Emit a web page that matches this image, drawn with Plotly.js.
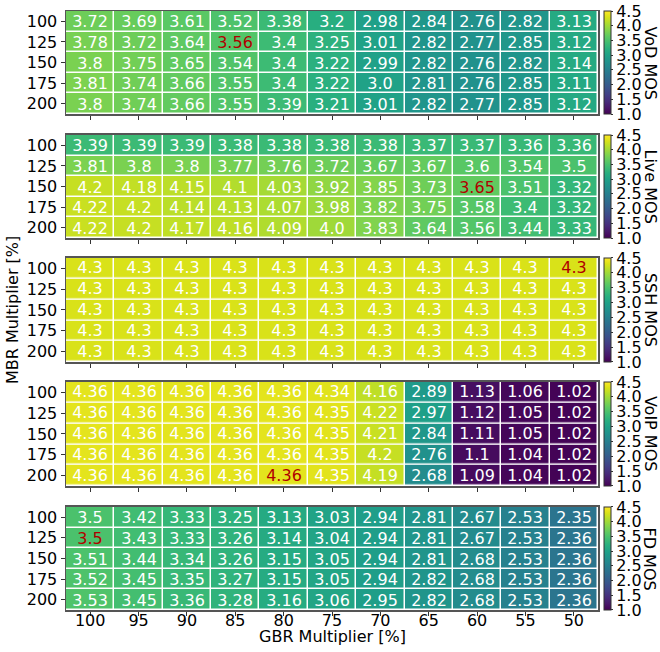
<!DOCTYPE html>
<html>
<head>
<meta charset="utf-8">
<script src="https://cdn.plot.ly/plotly-3.0.1.min.js"></script>
<style>html,body{margin:0;padding:0;background:#fff;}#chart{width:660px;height:652px;}</style>
</head>
<body>
<div id="chart"></div>
<script>
const gbr = ["100","95","90","85","80","75","70","65","60","55","50"];
const mbr = ["100","125","150","175","200"];
const metricNames = ["VoD MOS","Live MOS","SSH MOS","VoIP MOS","FD MOS"];

const vod = [
  [3.72,3.69,3.61,3.52,3.38,3.2,2.98,2.84,2.76,2.82,3.13],
  [3.78,3.72,3.64,3.56,3.4,3.25,3.01,2.82,2.77,2.85,3.12],
  [3.8,3.75,3.65,3.54,3.4,3.22,2.99,2.82,2.76,2.82,3.14],
  [3.81,3.74,3.66,3.55,3.4,3.22,3.0,2.81,2.76,2.85,3.11],
  [3.8,3.74,3.66,3.55,3.39,3.21,3.01,2.82,2.77,2.85,3.12]
];
const live = [
  [3.39,3.39,3.39,3.38,3.38,3.38,3.38,3.37,3.37,3.36,3.36],
  [3.81,3.8,3.8,3.77,3.76,3.72,3.67,3.67,3.6,3.54,3.5],
  [4.2,4.18,4.15,4.1,4.03,3.92,3.85,3.73,3.65,3.51,3.32],
  [4.22,4.2,4.14,4.13,4.07,3.98,3.82,3.75,3.58,3.4,3.32],
  [4.22,4.2,4.17,4.16,4.09,4.0,3.83,3.64,3.56,3.44,3.33]
];
const ssh = [
  [4.3,4.3,4.3,4.3,4.3,4.3,4.3,4.3,4.3,4.3,4.3],
  [4.3,4.3,4.3,4.3,4.3,4.3,4.3,4.3,4.3,4.3,4.3],
  [4.3,4.3,4.3,4.3,4.3,4.3,4.3,4.3,4.3,4.3,4.3],
  [4.3,4.3,4.3,4.3,4.3,4.3,4.3,4.3,4.3,4.3,4.3],
  [4.3,4.3,4.3,4.3,4.3,4.3,4.3,4.3,4.3,4.3,4.3]
];
const voip = [
  [4.36,4.36,4.36,4.36,4.36,4.34,4.16,2.89,1.13,1.06,1.02],
  [4.36,4.36,4.36,4.36,4.36,4.35,4.22,2.97,1.12,1.05,1.02],
  [4.36,4.36,4.36,4.36,4.36,4.35,4.21,2.84,1.11,1.05,1.02],
  [4.36,4.36,4.36,4.36,4.36,4.35,4.2,2.76,1.1,1.04,1.02],
  [4.36,4.36,4.36,4.36,4.36,4.35,4.19,2.68,1.09,1.04,1.02]
];
const fd = [
  [3.5,3.42,3.33,3.25,3.13,3.03,2.94,2.81,2.67,2.53,2.35],
  [3.5,3.43,3.33,3.26,3.14,3.04,2.94,2.81,2.67,2.53,2.36],
  [3.51,3.44,3.34,3.26,3.15,3.05,2.94,2.81,2.68,2.53,2.36],
  [3.52,3.45,3.35,3.27,3.15,3.05,2.94,2.82,2.68,2.53,2.36],
  [3.53,3.45,3.36,3.28,3.16,3.06,2.95,2.82,2.68,2.53,2.36]
];
// highlighted cell per panel: [MBR, GBR]
const highlights = [["125","85"],["150","60"],["100","50"],["200","80"],["125","100"]];

const panels = [vod, live, ssh, voip, fd];
const domains = [[0.828,1.0],[0.621,0.793],[0.414,0.588],[0.207,0.381],[0.0,0.172]];
const FONT = "DejaVu Sans, sans-serif";
const fmt = v => Number.isInteger(v) ? v.toFixed(1) : String(v);

const data = [];
const annotations = [{
  text: "GBR Multiplier [%]", xref: "paper", yref: "paper", x: 0.5, y: -0.045,
  xanchor: "center", yanchor: "middle", showarrow: false,
  font: {family: FONT, size: 16, color: "#000"}
}];
const layout = {
  width: 660, height: 652,
  margin: {l: 66, r: 62, t: 11, b: 42},
  paper_bgcolor: "#fff", plot_bgcolor: "#fff",
  font: {family: FONT, size: 16, color: "#000"},
  showlegend: false,
  annotations: annotations
};

panels.forEach((z, i) => {
  const n = i + 1;
  const xa = "x" + (n === 1 ? "" : n), ya = "y" + (n === 1 ? "" : n);
  const dom = domains[i];
  const hl = highlights[i];
  const txt = mbr.map((m, r) => gbr.map((g, c) => {
    const s = fmt(z[r][c]);
    return (hl[0] === m && hl[1] === g) ? "<span style='color:#b00000'>" + s + "</span>" : s;
  }));
  data.push({
    type: "heatmap", x: gbr, y: mbr, z: z, text: txt, texttemplate: "%{text}",
    textfont: {family: FONT, size: 16, color: "#ffffff"},
    xaxis: xa, yaxis: ya,
    colorscale: "Viridis", zmin: 1.0, zmax: 4.5,
    xgap: 1.5, ygap: 1.5, hoverinfo: "skip",
    colorbar: {
      xref: "container", x: 604 / 660, xanchor: "left", xpad: 0, ypad: 0,
      y: (dom[0] + dom[1]) / 2, yanchor: "middle", len: dom[1] - dom[0], lenmode: "fraction",
      thickness: 7, outlinewidth: 1, outlinecolor: "#333",
      tick0: 1.0, dtick: 0.5, tickformat: ".1f", ticks: "outside", ticklen: 2, tickcolor: "#333",
      tickfont: {family: FONT, size: 16, color: "#000"}
    }
  });
  annotations.push({
    text: metricNames[i], xref: "paper", yref: "paper", x: (650 - 66) / 532, y: (dom[0] + dom[1]) / 2,
    xanchor: "center", yanchor: "middle", textangle: 90, showarrow: false,
    font: {family: FONT, size: 16, color: "#000"}
  });
  const xk = "xaxis" + (n === 1 ? "" : n), yk = "yaxis" + (n === 1 ? "" : n);
  layout[xk] = {
    type: "category", anchor: ya, domain: [0, 1],
    categoryorder: "array", categoryarray: gbr,
    showticklabels: n === 5, ticks: "outside", ticklen: 4, tickcolor: "#333",
    ticklabelstandoff: -9,
    showline: true, mirror: true, linecolor: "#555", linewidth: 1.5,
    showgrid: false, zeroline: false, fixedrange: true,
    tickfont: {family: FONT, size: 16, color: "#000"}
  };
  layout[yk] = {
    type: "category", anchor: xa, domain: dom,
    categoryorder: "array", categoryarray: mbr, autorange: "reversed",
    ticks: "outside", ticklen: 4, tickcolor: "#333",
    showline: true, mirror: true, linecolor: "#555", linewidth: 1.5,
    showgrid: false, zeroline: false, fixedrange: true,
    tickfont: {family: FONT, size: 16, color: "#000"}
  };
  if (n === 3) layout[yk].title = {text: "MBR Multiplier [%]", font: {family: FONT, size: 16, color: "#000"}, standoff: 4};
});

Plotly.newPlot("chart", data, layout, {displayModeBar: false, staticPlot: true});
</script>
</body>
</html>
